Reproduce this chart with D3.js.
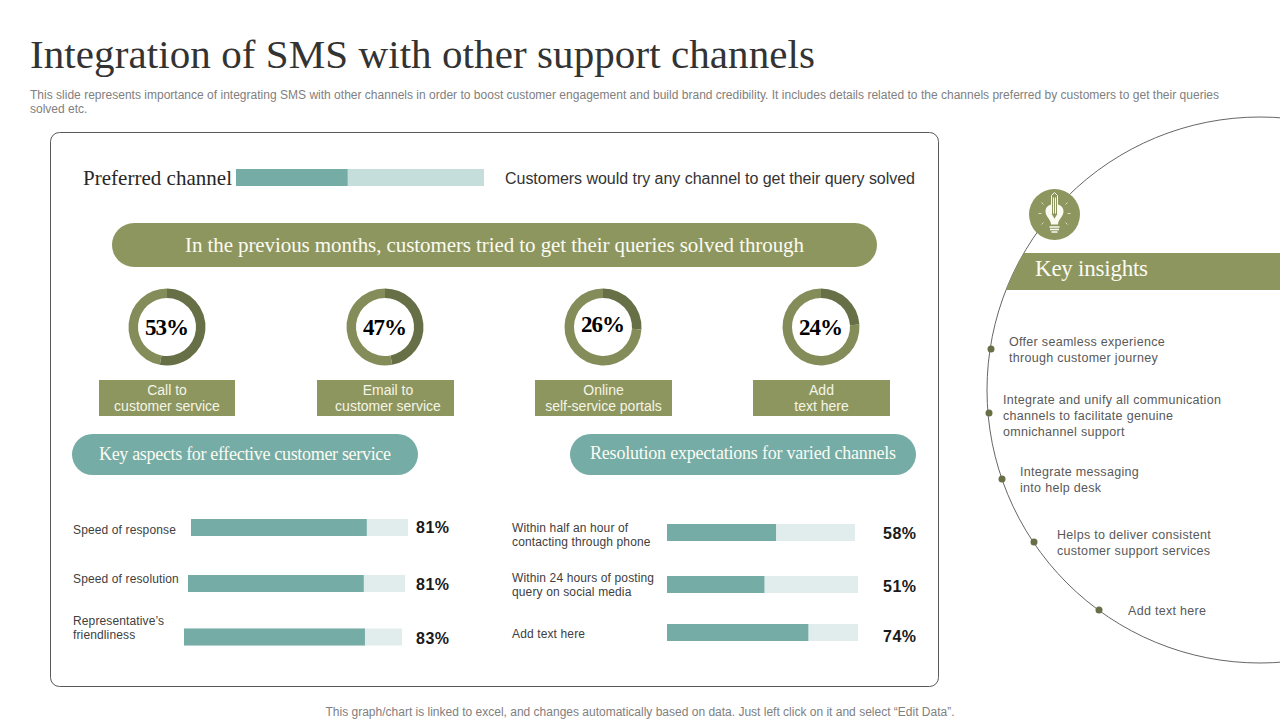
<!DOCTYPE html>
<html>
<head>
<meta charset="utf-8">
<script src="https://cdnjs.cloudflare.com/ajax/libs/d3/7.8.5/d3.min.js"></script>
<style>
  body { margin: 0; background: #fff; }
  svg { display: block; }
  text { font-family: "Liberation Sans", sans-serif; }
  .serif { font-family: "Liberation Serif", serif; }
</style>
</head>
<body>
<div id="chart"></div>
<script>
// chart values
const donutLabels = [["Call to", "customer service"], ["Email to", "customer service"], ["Online", "self-service portals"], ["Add", "text here"]];
const donutValues = [53, 47, 26, 24];
const aspectLabels = [["Speed of response"], ["Speed of resolution"], ["Representative’s", "friendliness"]];
const aspectValues = [81, 81, 83];
const resolutionLabels = [["Within half an hour of", "contacting through phone"], ["Within 24 hours of posting", "query on social media"], ["Add text here"]];
const resolutionValues = [58, 51, 74];
const preferredValue = 45;
const insightLabels = [
  ["Offer seamless experience", "through customer journey"],
  ["Integrate and unify all communication", "channels to facilitate genuine", "omnichannel support"],
  ["Integrate messaging", "into help desk"],
  ["Helps to deliver consistent", "customer support services"],
  ["Add text here"]
];

const olive = "#8e965f", oliveDark = "#666f45", oliveMid = "#848d5a";
const teal = "#75aca6", tealPale = "#e1eded", tealLight = "#c6dedb";

const svg = d3.select("#chart").append("svg").attr("width", 1280).attr("height", 720);

// fit is for the serif strings, the installed font runs narrower than the original
const addText = function(x, y, str, size, color, opts = {}) {
  const t = svg.append("text").attr("x", x).attr("y", y).text(str)
    .attr("font-size", size).attr("fill", color)
    .attr("text-anchor", opts.anchor || "start");
  if (opts.serif) t.attr("class", "serif");
  if (opts.bold) t.attr("font-weight", "bold");
  if (opts.fit) t.attr("textLength", opts.fit).attr("lengthAdjust", "spacing");
  if (opts.spacing) t.attr("letter-spacing", opts.spacing);
  return t;
}

// Header
addText(30, 68, "Integration of SMS with other support channels", 41, "#333333", {serif: true, fit: 785});
addText(30, 99, "This slide represents importance of integrating SMS with other channels in order to boost customer engagement and build brand credibility. It includes details related to the channels preferred by customers to get their queries", 12, "#808080", {fit: 1189});
addText(30, 113, "solved etc.", 12, "#808080");
addText(640, 716, "This graph/chart is linked to excel, and changes automatically based on data. Just left click on it and select “Edit Data”.", 12, "#808080", {anchor: "middle", fit: 629});

// Main panel
svg.append("rect").attr("x", 50.5).attr("y", 132.5).attr("width", 888).attr("height", 554).attr("rx", 9)
  .attr("fill", "#fff").attr("stroke", "#595959").attr("stroke-width", 1);

// Preferred channel
addText(83, 185, "Preferred channel", 21, "#262626", {serif: true, fit: 149});
const preferredScale = d3.scaleLinear().domain([0, 100]).range([0, 248]);
svg.append("rect").attr("x", 236).attr("y", 169).attr("width", preferredScale(100)).attr("height", 17).attr("fill", tealLight);
svg.append("rect").attr("x", 236).attr("y", 169).attr("width", preferredScale(preferredValue)).attr("height", 17).attr("fill", teal);
addText(505, 184, "Customers would try any channel to get their query solved", 16, "#333333", {fit: 410});

// Banner
svg.append("rect").attr("x", 112).attr("y", 223).attr("width", 765).attr("height", 44).attr("rx", 22).attr("fill", olive);
addText(185, 252, "In the previous months, customers tried to get their queries solved through", 21, "#fbfbf2", {serif: true, fit: 619});

// Donuts
const donutCx = [167, 385, 603, 821];
const donutTextY = [335, 335, 332, 335];
const labelBoxX = [99, 317, 535, 753];
const labelBoxW = [136, 137, 137, 137];
const labelShift = [0, 2.5, 0, 0];
const arc = d3.arc().innerRadius(29).outerRadius(38.5);
const pie = d3.pie().sort(null);

donutValues.forEach((value, i) => {
  const g = svg.append("g").attr("transform", "translate(" + donutCx[i] + ",327)");
  g.selectAll("path").data(pie([value, 100 - value])).enter().append("path")
    .attr("d", arc)
    .attr("fill", (d, k) => k === 0 ? oliveDark : oliveMid);
  addText(donutCx[i], donutTextY[i], value + "%", 23, "#000", {serif: true, bold: true, anchor: "middle", fit: 44});

  svg.append("rect").attr("x", labelBoxX[i]).attr("y", 380).attr("width", labelBoxW[i]).attr("height", 36).attr("fill", olive);
  donutLabels[i].forEach((line, k) => {
    addText(labelBoxX[i] + labelBoxW[i] / 2 + labelShift[i], 395 + k * 16, line, 14, "#f4f5e6", {anchor: "middle"});
  });
});

// Section pills
svg.append("rect").attr("x", 72).attr("y", 434).attr("width", 346).attr("height", 41).attr("rx", 20.5).attr("fill", teal);
addText(99, 460, "Key aspects for effective customer service", 18, "#fbfbf2", {serif: true, fit: 292});
svg.append("rect").attr("x", 570).attr("y", 434).attr("width", 346).attr("height", 41).attr("rx", 20.5).attr("fill", teal);
addText(590, 459, "Resolution expectations for varied channels", 18, "#fbfbf2", {serif: true, fit: 306});

// Bars
const drawBars = function(labels, values, layout) {
  values.forEach((value, i) => {
    const x = d3.scaleLinear().domain([0, 100]).range([layout.x[i], layout.x[i] + layout.w[i]]);
    svg.append("rect").attr("x", x(0)).attr("y", layout.y[i]).attr("width", x(100) - x(0)).attr("height", 17).attr("fill", tealPale);
    svg.append("rect").attr("x", x(0)).attr("y", layout.y[i]).attr("width", x(value) - x(0)).attr("height", 17).attr("fill", teal);
    labels[i].forEach((line, k) => {
      addText(layout.labelX, layout.labelY[i] + k * 14, line, 12, "#404040", {spacing: 0.13});
    });
    addText(layout.valueX, layout.valueY[i], value + "%", 16, "#1a1a1a", {bold: true, anchor: "middle", fit: 33});
  });
}

drawBars(aspectLabels, aspectValues, {
  x: [191, 188, 184], w: [217, 217, 218], y: [519, 575, 628.5],
  labelX: 73, labelY: [534, 583, 625],
  valueX: 432.5, valueY: [533, 590, 644]
});
drawBars(resolutionLabels, resolutionValues, {
  x: [667, 667, 667], w: [188, 191, 191], y: [524, 576, 624],
  labelX: 512, labelY: [532, 582, 638],
  valueX: 899.5, valueY: [539, 592, 642]
});

// Key insights arc
svg.append("clipPath").attr("id", "insight-clip").append("circle").attr("cx", 1260).attr("cy", 390).attr("r", 273);
svg.append("circle").attr("cx", 1260).attr("cy", 390).attr("r", 273)
  .attr("fill", "none").attr("stroke", "#666666").attr("stroke-width", 1);
svg.append("rect").attr("x", 980).attr("y", 253).attr("width", 300).attr("height", 37)
  .attr("fill", olive).attr("clip-path", "url(#insight-clip)");
addText(1035, 276, "Key insights", 23, "#fbfbf2", {serif: true, fit: 113});

const insightDots = [[991, 349], [989, 413], [1002, 479], [1034, 542], [1099, 610]];
const insightTextX = [1009, 1003, 1020, 1057, 1128];
const insightTextY = [346, 404, 476, 539, 615];
insightLabels.forEach((lines, i) => {
  svg.append("circle").attr("cx", insightDots[i][0]).attr("cy", insightDots[i][1]).attr("r", 3.5).attr("fill", oliveDark);
  lines.forEach((line, k) => {
    addText(insightTextX[i], insightTextY[i] + k * 16, line, 12.5, "#595959", {spacing: 0.3});
  });
});

// Light bulb badge
const badge = svg.append("g").attr("transform", "translate(1054.5,214.5)");
badge.append("circle").attr("r", 25.5).attr("fill", olive);
badge.append("path")
  .attr("d", "M-3.5,10 C-3.5,5 -9,2 -9,-3 C-9,-7 -6.5,-9.5 -3,-10 L-3,0 L0,5 L3,0 L3,-10 C6.5,-9.5 9,-7 9,-3 C9,2 3.5,5 3.5,10 Z")
  .attr("fill", "#fbfbf2");
badge.append("path")
  .attr("d", "M-3,-19 L0,-22 L3,-19 L3,0 L0,5 L-3,0 Z M-1,-17 V-1 M1,-17 V-1")
  .attr("fill", "none").attr("stroke", "#fbfbf2").attr("stroke-width", 1);
badge.append("path")
  .attr("d", "M-5,12.5 H5 M-4.5,15 H4.5 M-3,17.5 H3")
  .attr("stroke", "#fbfbf2").attr("stroke-width", 1.6).attr("fill", "none");
badge.append("path")
  .attr("d", "M-13,-12 L-11,-10 M13,-12 L11,-10 M-16,-1 H-13 M16,-1 H13 M-13,10 L-11,8 M13,10 L11,8")
  .attr("stroke", "#d9dcc2").attr("stroke-width", 1).attr("fill", "none");
</script>
</body>
</html>
